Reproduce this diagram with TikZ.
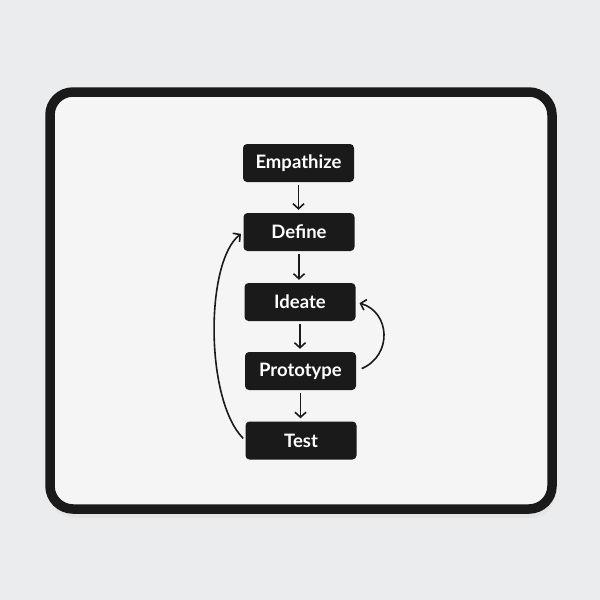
\documentclass[tikz,border=0pt]{standalone}
\usepackage{fontspec}
\setmainfont{Lato}[UprightFont=* Bold]
\usetikzlibrary{arrows.meta}
\definecolor{bgc}{HTML}{EBECEE}
\definecolor{matc}{HTML}{F5F5F5}
\definecolor{boxc}{HTML}{1A1A1A}
\tikzset{
  stagebox/.style={draw=none, fill=boxc, rounded corners=4pt, minimum width=111pt,
    minimum height=38pt, inner sep=0pt, text=white, font=\fontsize{18.5}{21}\selectfont},
  flowarrow/.style={draw=boxc, line width=1.6pt, -{Straight Barb[length=5pt,width=11pt]}},
}
\begin{document}
\begin{tikzpicture}[x=1pt,y=-1pt]
\useasboundingbox (0,0) rectangle (600,600);
\fill[bgc] (0,0) rectangle (600,600);
% shadow
\fill[black!10, rounded corners=26pt] (48,98) rectangle (556,518);
% mat
\draw[fill=matc, draw=boxc, line width=9.5pt, rounded corners=23pt] (50,92) rectangle (552,509);
\node[stagebox] (emp) at (298.5,163) {Empathize};
\node[stagebox] (def) at (299,232) {Define};
\node[stagebox] (ide) at (300,302) {Ideate};
\node[stagebox] (pro) at (300.5,371) {Prototype};
\node[stagebox] (tst) at (301,440.5) {Test};
\draw[flowarrow, shorten <=3pt, shorten >=3pt] (emp.south) -- (emp.south |- def.north);
\draw[flowarrow, shorten <=3pt, shorten >=3pt] (def.south) -- (def.south |- ide.north);
\draw[flowarrow, shorten <=3pt, shorten >=3pt] (ide.south) -- (ide.south |- pro.north);
\draw[flowarrow, shorten <=3pt, shorten >=3pt] (pro.south) -- (pro.south |- tst.north);
\draw[flowarrow, shorten <=3pt, shorten >=3pt] (tst.west) .. controls (205,400) and (205,262) .. (def.west);
\draw[flowarrow, shorten <=6pt, shorten >=4pt] (pro.east) .. controls (393,355) and (390,312) .. (ide.east);
\end{tikzpicture}
\end{document}
